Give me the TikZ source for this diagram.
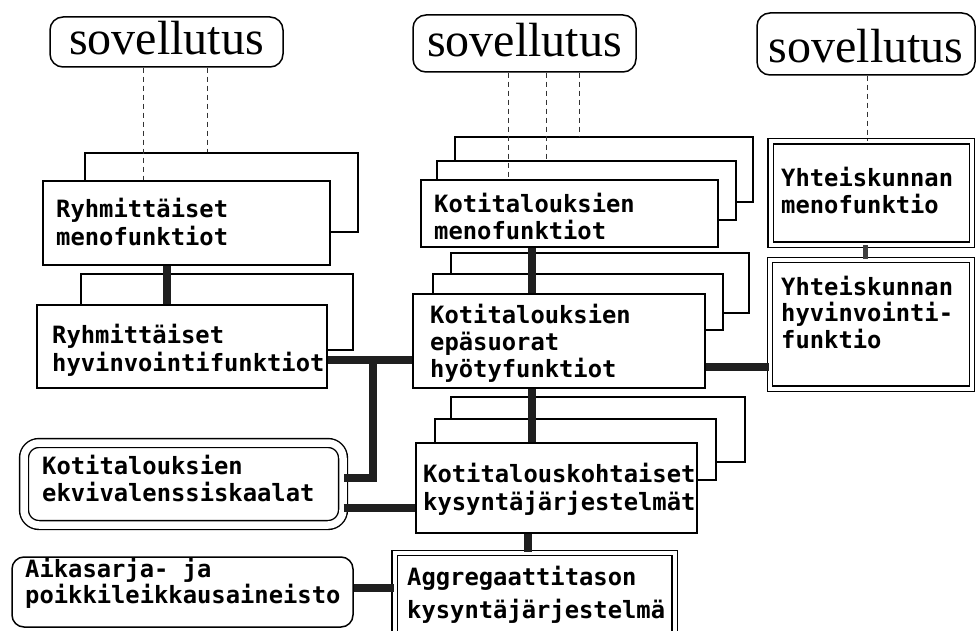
\documentclass[tikz,border=0pt]{standalone}
\usepackage{fontspec}
\setmainfont{Liberation Serif}
\newfontfamily\boxfont{DejaVu Sans Mono}
\usetikzlibrary{fit}
\newcommand\mytwolines[3]{\vtop{\baselineskip=#1\hbox{#2}\hbox{#3}}}
\newcommand\mythreelines[4]{\vtop{\baselineskip=#1\hbox{#2}\hbox{#3}\hbox{#4}}}
\begin{document}
\begin{tikzpicture}[x=1pt,y=-1pt,
  box/.style={draw=black, fill=white, line width=1.6pt, inner sep=0pt},
  dbox/.style={draw=black, line width=1.4pt, double=white, double distance=4pt, inner sep=0pt},
  sovbox/.style={draw=black, fill=white, line width=1.5pt, rounded corners=13pt, inner sep=0pt},
  txt/.style={anchor=base west, inner sep=0pt, font=\boxfont\bfseries\fontsize{23.8pt}{28pt}\selectfont},
  sovtxt/.style={anchor=base, inner sep=0pt, font=\fontsize{48pt}{50pt}\selectfont},
  conn/.style={line width=7.5pt, draw=black!88},
  connthin/.style={line width=5pt, draw=black!75},
  dashlink/.style={line width=1pt, draw=black!80, dash pattern=on 5pt off 4pt}]
\clip (0,0) rectangle (976,631);
\fill[white] (0,0) rectangle (976,631);

% sovellutus boxes
\node[sovbox, fit={(50,17)(283,67)}] (sov1) {};
\node[sovbox, fit={(413,15)(636,72)}] (sov2) {};
\node[sovbox, fit={(757,13)(975,75)}] (sov3) {};
\node[sovtxt] (sov1t) at (166.5,55) {sovellutus};
\node[sovtxt] (sov2t) at (524.5,57) {sovellutus};
\node[sovtxt] (sov3t) at (866,63) {sovellutus};

% Ryhmittaiset stacks
\node[box, fit={(85,153)(358,232)}] (rmb) {};
\node[box, fit={(43,181)(330,265)}] (rm) {};
\node[box, fit={(81,274)(353,350)}] (rhb) {};
\node[box, fit={(37,305)(327,388)}] (rh) {};

% Kotitalouksien stacks
\node[box, fit={(455,137)(753,202)}] (kmb2) {};
\node[box, fit={(437,161)(736,220)}] (kmb1) {};
\node[box, fit={(421,180)(718,247)}] (km) {};
\node[box, fit={(451,253)(749,313)}] (keb2) {};
\node[box, fit={(433,274)(723,330)}] (keb1) {};
\node[box, fit={(413,294)(705,388)}] (ke) {};
\node[box, fit={(451,397)(745,462)}] (kkb2) {};
\node[box, fit={(435,419)(716,480)}] (kkb1) {};
\node[box, fit={(416,443)(697,533)}] (kk) {};

% double boxes
\node[dbox, fit={(770.5,141.5)(972,244.5)}] (ym) {};
\node[dbox, fit={(770,260)(972,388.5)}] (yh) {};
\node[dbox, fit={(394.5,553)(674.5,640)}] (ag) {};
\node[dbox, rounded corners=15pt, double distance=7.5pt, fit={(24,443)(343,525)}] (ekv) {};
\node[sovbox, rounded corners=12pt, fit={(12,557)(353,627)}] (ai) {};

% texts
\node[txt] (rmt) at (56,217) {\mytwolines{28pt}{Ryhmittäiset}{menofunktiot}};
\node[txt] (rht) at (52,343) {\mytwolines{28pt}{Ryhmittäiset}{hyvinvointifunktiot}};
\node[txt] (kmt) at (434,212) {\mytwolines{27pt}{Kotitalouksien}{menofunktiot}};
\node[txt] (ket) at (430,323) {\mythreelines{27pt}{Kotitalouksien}{epäsuorat}{hyötyfunktiot}};
\node[txt] (kkt) at (423,482) {\mytwolines{28pt}{Kotitalouskohtaiset}{kysyntäjärjestelmät}};
\node[txt] (ymt) at (781,186) {\mytwolines{27pt}{Yhteiskunnan}{menofunktio}};
\node[txt] (yht) at (781,295) {\mythreelines{26.5pt}{Yhteiskunnan}{hyvinvointi-}{funktio}};
\node[txt] (ekvt) at (42,474) {\mytwolines{27pt}{Kotitalouksien}{ekvivalenssiskaalat}};
\node[txt] (ait) at (25,577) {\mytwolines{26pt}{Aikasarja- ja}{poikkileikkausaineisto}};
\node[txt] (agt) at (407,585) {\mytwolines{33pt}{Aggregaattitason}{kysyntäjärjestelmä}};

% helper coordinates
\coordinate (xa) at (143,0);
\coordinate (xb) at (207,0);
\coordinate (xc) at (167,0);
\coordinate (xd) at (508,0);
\coordinate (xe) at (546,0);
\coordinate (xf) at (579,0);
\coordinate (xg) at (532,0);
\coordinate (xh) at (528,0);
\coordinate (xi) at (865,0);
\coordinate (xj) at (867,0);
\coordinate (yA) at (0,360);
\coordinate (yB) at (0,478);
\coordinate (yC) at (0,508);
\coordinate (yD) at (0,588);
\coordinate (yE) at (0,367);
\coordinate (j) at (373,360);

% dashed links
\draw[dashlink] (sov1.south -| xa) -- (rm.north -| xa);
\draw[dashlink] (sov1.south -| xb) -- (rmb.north -| xb);
\draw[dashlink] (sov2.south -| xd) -- (km.north -| xd);
\draw[dashlink] (sov2.south -| xe) -- (kmb1.north -| xe);
\draw[dashlink] (sov2.south -| xf) -- (kmb2.north -| xf);
\draw[dashlink] (sov3.south -| xj) -- (ym.north -| xj);

% thick connectors
\draw[conn] (rm.south -| xc) -- (rh.north -| xc);
\draw[conn] (rh.east |- yA) -- (ke.west |- yA);
\draw[conn] (j) |- (ekv.east |- yB);
\draw[conn] (km.south -| xg) -- (ke.north -| xg);
\draw[conn] (ke.south -| xg) -- (kk.north -| xg);
\draw[conn] (kk.south -| xh) -- (ag.north -| xh);
\draw[conn] (ekv.east |- yC) -- (kk.west |- yC);
\draw[conn] (ai.east |- yD) -- (ag.west |- yD);
\draw[conn] (ke.east |- yE) -- (yh.west |- yE);
\draw[connthin] (ym.south -| xi) -- (yh.north -| xi);
\end{tikzpicture}
\end{document}
